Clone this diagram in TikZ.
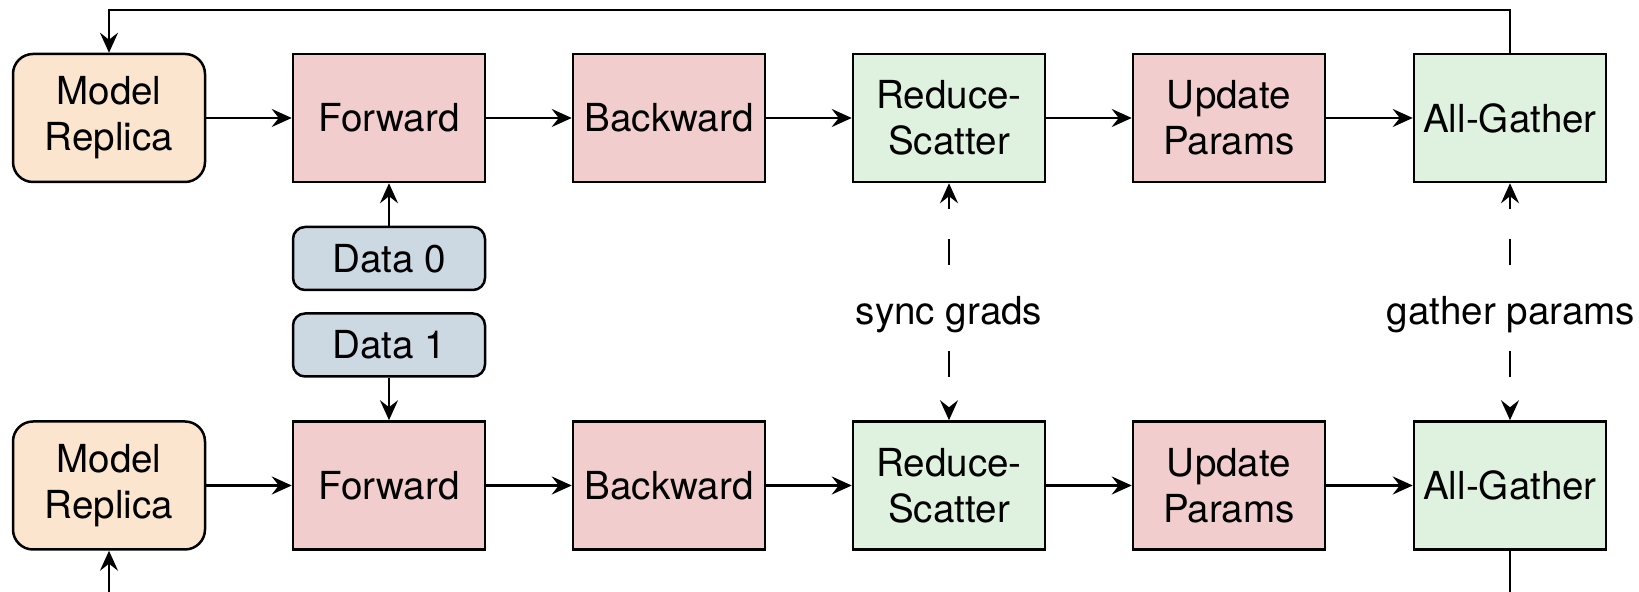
\documentclass[tikz,border=0pt]{standalone}
\usepackage{fontspec}
\setmainfont{TeX Gyre Heros}
\usetikzlibrary{arrows.meta}

\definecolor{replicafill}{HTML}{FBE5CF}
\definecolor{computefill}{HTML}{F2CDCD}
\definecolor{commfill}{HTML}{DFF2DF}
\definecolor{datafill}{HTML}{CCD8E2}

\begin{document}
\begin{tikzpicture}[x=0.5pt,y=0.5pt,
  >={Stealth[length=10pt,width=9pt,inset=3.5pt]},
  every node/.style={font=\fontsize{19.3}{23}\selectfont, align=center},
  replica/.style={draw, line width=1.25pt, rounded corners=10pt, fill=replicafill, minimum width=96pt, minimum height=64pt},
  compute/.style={draw, line width=1.25pt, fill=computefill, minimum width=96pt, minimum height=64pt},
  comm/.style={draw, line width=1.25pt, fill=commfill, minimum width=96pt, minimum height=64pt},
  shard/.style={draw, line width=1.25pt, rounded corners=6pt, fill=datafill, minimum width=96pt, minimum height=31.5pt},
  flow/.style={->, line width=1.25pt},
  sync/.style={<->, line width=1.25pt, dash pattern=on 13pt off 15pt, dash phase=6pt},
  synclabel/.style={fill=white, inner sep=3pt}]
  \clip (0,0) rectangle (1639,592);

  % replica 0
  \node[replica] (replica0) at (109,474) {Model\\Replica};
  \node[compute] (fwd0) at (389,474) {Forward};
  \node[compute] (bwd0) at (669,474) {Backward};
  \node[comm] (rs0) at (949,474) {Reduce-\\Scatter};
  \node[compute] (upd0) at (1229,474) {Update\\Params};
  \node[comm] (ag0) at (1510,474) {All-Gather};

  % replica 1
  \node[replica] (replica1) at (109,106.5) {Model\\Replica};
  \node[compute] (fwd1) at (389,106.5) {Forward};
  \node[compute] (bwd1) at (669,106.5) {Backward};
  \node[comm] (rs1) at (949,106.5) {Reduce-\\Scatter};
  \node[compute] (upd1) at (1229,106.5) {Update\\Params};
  \node[comm] (ag1) at (1510,106.5) {All-Gather};

  % data shards
  \node[shard] (data0) at (389,333.5) {Data 0};
  \node[shard] (data1) at (389,247) {Data 1};

  \foreach \i in {0,1} {
    \draw[flow] (replica\i) -- (fwd\i);
    \draw[flow] (fwd\i) -- (bwd\i);
    \draw[flow] (bwd\i) -- (rs\i);
    \draw[flow] (rs\i) -- (upd\i);
    \draw[flow] (upd\i) -- (ag\i);
  }

  \draw[flow] (data0) -- (fwd0);
  \draw[flow] (data1) -- (fwd1);

  % sync between the replicas
  \draw[sync] (rs0.south) -- (rs1.north);
  \draw[sync] (ag0.south) -- (ag1.north);
  \node[synclabel] (gradlabel) at (949,277) {sync grads};
  \node[synclabel] (paramlabel) at (1511,277) {gather params};

  % loops back to the replicas
  \draw[flow] (ag0.north) -- (ag0.north |- 0,582) -| (replica0.north);
  \draw[flow] (ag1.south) -- (ag1.south |- 0,-30) -| (replica1.south);
\end{tikzpicture}
\end{document}
